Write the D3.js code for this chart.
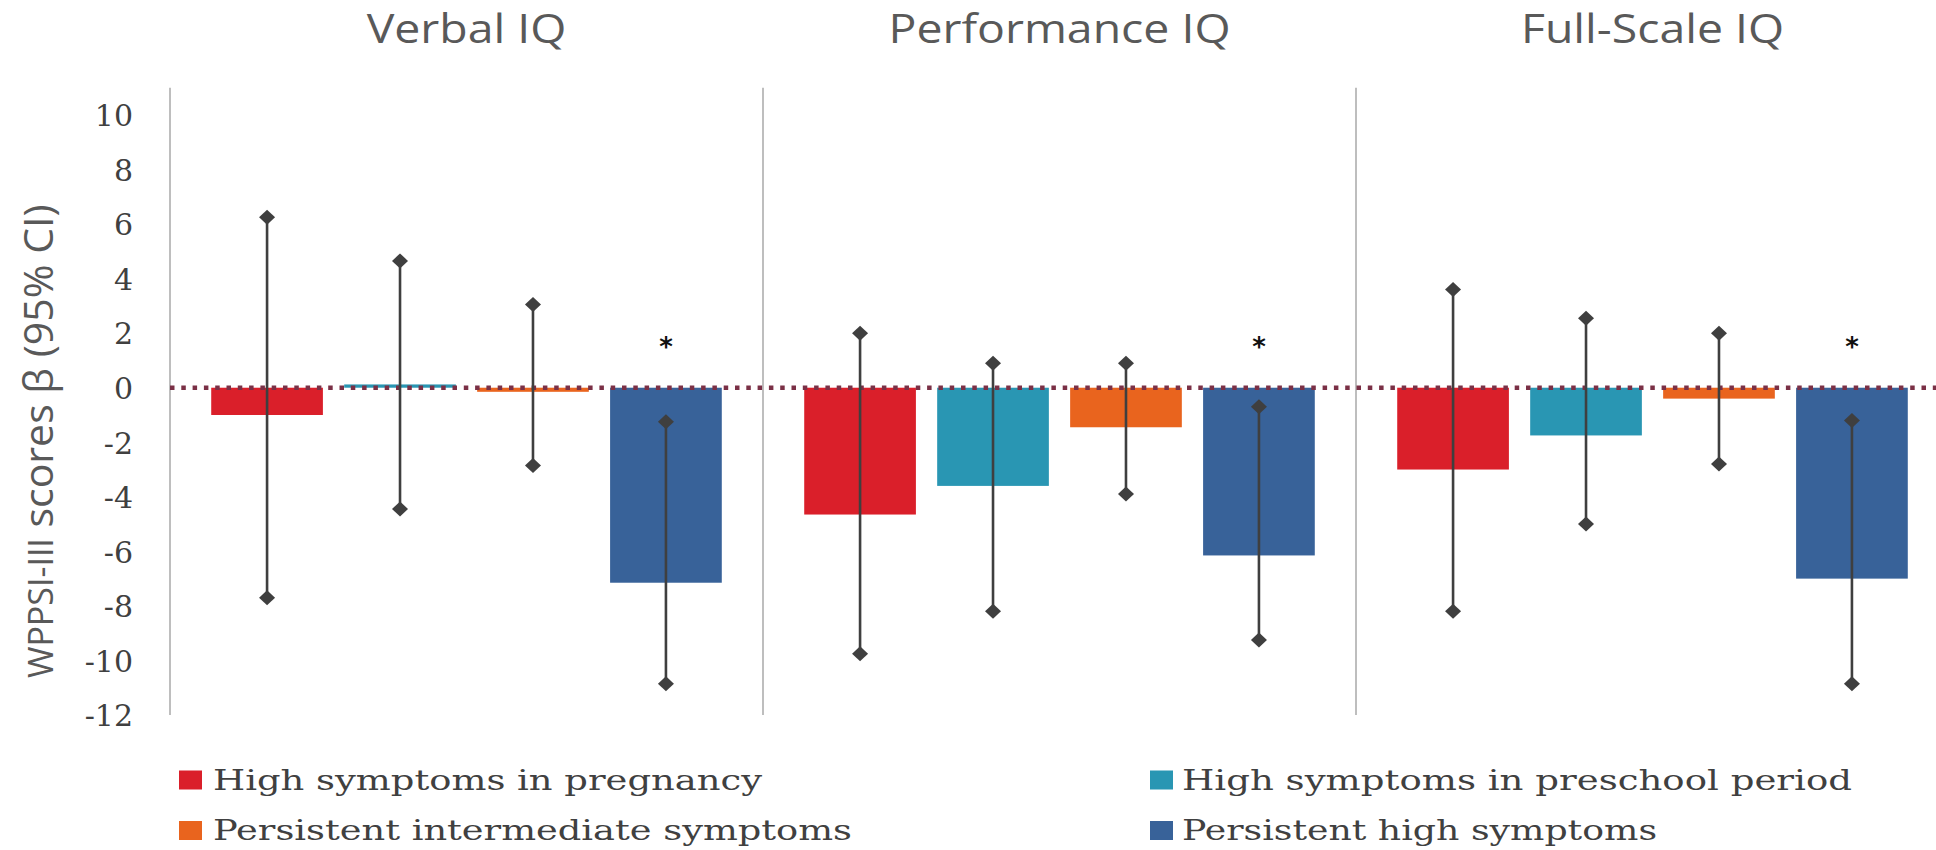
<!DOCTYPE html>
<html>
<head>
<meta charset="utf-8">
<script src="https://cdn.jsdelivr.net/npm/d3@7"></script>
<style>
  html, body { margin: 0; padding: 0; background: #ffffff; }
  svg { display: block; }
</style>
</head>
<body>
<div id="chart"></div>
<script>
// IQ outcomes (WPPSI-III) by maternal depressive-symptom trajectory: beta and 95% CI
const categories = ["Verbal IQ", "Performance IQ", "Full-Scale IQ"];
const seriesNames = [
  "High symptoms in pregnancy",
  "High symptoms in preschool period",
  "Persistent intermediate symptoms",
  "Persistent high symptoms"
];
const seriesColors = ["#da1f2a", "#2996b3", "#e9641e", "#386299"];

// beta estimates, one value per category
const betaPregnancy    = [-1.0, -4.65, -3.0];
const betaPreschool    = [0.12, -3.6, -1.75];
const betaIntermediate = [-0.15, -1.45, -0.4];
const betaPersistent   = [-7.15, -6.15, -7.0];

// lower 95% CI bounds
const lowPregnancy    = [-7.7, -9.75, -8.2];
const lowPreschool    = [-4.45, -8.2, -5.0];
const lowIntermediate = [-2.85, -3.9, -2.8];
const lowPersistent   = [-10.85, -9.25, -10.85];

// upper 95% CI bounds
const highPregnancy    = [6.25, 2.0, 3.6];
const highPreschool    = [4.65, 0.9, 2.55];
const highIntermediate = [3.05, 0.9, 2.0];
const highPersistent   = [-1.25, -0.7, -1.2];

// statistically significant estimates (marked with an asterisk)
const sigPregnancy    = [false, false, false];
const sigPreschool    = [false, false, false];
const sigIntermediate = [false, false, false];
const sigPersistent   = [true, true, true];

const yTicks = [-12, -10, -8, -6, -4, -2, 0, 2, 4, 6, 8, 10];
const yDomain = [-12, 11];
const asteriskLevel = 1.7;

const betas = [betaPregnancy, betaPreschool, betaIntermediate, betaPersistent];
const lows  = [lowPregnancy, lowPreschool, lowIntermediate, lowPersistent];
const highs = [highPregnancy, highPreschool, highIntermediate, highPersistent];
const sigs  = [sigPregnancy, sigPreschool, sigIntermediate, sigPersistent];

const rows = [];
categories.forEach((cat, ci) => {
  seriesNames.forEach((s, si) => {
    rows.push({
      cat, series: s, si,
      beta: betas[si][ci], low: lows[si][ci], high: highs[si][ci], sig: sigs[si][ci]
    });
  });
});

const W = 1936, H = 850;
const plotLeft = 170, panelW = 593;
const svg = d3.select("#chart").append("svg").attr("width", W).attr("height", H);

const x0 = d3.scaleBand().domain(categories)
  .range([plotLeft, plotLeft + panelW * categories.length]).padding(0);
const x1 = d3.scaleBand().domain(seriesNames)
  .range([0, x0.bandwidth()]).paddingInner(0.16).paddingOuter(0.31);
const y = d3.scaleLinear().domain(yDomain).range([715, 87.7]);

// y axis tick labels
const yAxis = d3.axisLeft(y).tickValues(yTicks).tickFormat(d => String(d)).tickSize(0).tickPadding(0);
const gy = svg.append("g").attr("transform", `translate(133,0)`).call(yAxis);
gy.select(".domain").remove();
gy.selectAll("text")
  .attr("font-family", "'DejaVu Serif', serif")
  .attr("font-size", 30)
  .attr("fill", "#404040")
  .attr("dy", "0.36em");

// panel separators and left edge
const seps = categories.map(c => x0(c));
svg.append("g").selectAll("line").data(seps).join("line")
  .attr("x1", d => d).attr("x2", d => d)
  .attr("y1", y(yDomain[1])).attr("y2", y(yDomain[0]))
  .attr("stroke", "#a3a3a3").attr("stroke-width", 1.4);

// panel titles (slightly widened lettering)
svg.append("g").selectAll("text").data(categories).join("text")
  .attr("x", d => x0(d) + x0.bandwidth() / 2)
  .attr("y", 43)
  .attr("text-anchor", "middle")
  .attr("font-family", "'Open Sans', sans-serif")
  .attr("font-size", 40)
  .attr("fill", "#595959")
  .text(d => d)
  .each(function () {
    const w = this.getComputedTextLength();
    d3.select(this).attr("textLength", w * 1.16).attr("lengthAdjust", "spacingAndGlyphs");
  });

// bars
svg.append("g").selectAll("rect").data(rows).join("rect")
  .attr("x", d => x0(d.cat) + x1(d.series))
  .attr("width", x1.bandwidth())
  .attr("y", d => y(Math.max(0, d.beta)))
  .attr("height", d => Math.abs(y(d.beta) - y(0)))
  .attr("fill", d => seriesColors[d.si]);

// zero reference line
svg.append("line")
  .attr("x1", plotLeft).attr("x2", W)
  .attr("y1", y(0)).attr("y2", y(0))
  .attr("stroke", "#7a3046").attr("stroke-width", 4.5)
  .attr("stroke-dasharray", "4.5 6.8");

// confidence intervals
const cx = d => x0(d.cat) + x1(d.series) + x1.bandwidth() / 2;
const ci = svg.append("g");
ci.selectAll("line").data(rows).join("line")
  .attr("x1", cx).attr("x2", cx)
  .attr("y1", d => y(d.high)).attr("y2", d => y(d.low))
  .attr("stroke", "#3f3f3f").attr("stroke-width", 2.6);
const diamond = "M0,-7.5L8,0L0,7.5L-8,0Z";
const ends = rows.flatMap(d => [{ x: cx(d), v: d.high }, { x: cx(d), v: d.low }]);
ci.selectAll("path").data(ends).join("path")
  .attr("d", diamond)
  .attr("transform", d => `translate(${d.x},${y(d.v)})`)
  .attr("fill", "#3f3f3f");

// significance markers
svg.append("g").selectAll("text").data(rows.filter(d => d.sig)).join("text")
  .attr("x", cx)
  .attr("y", y(asteriskLevel) + 15)
  .attr("text-anchor", "middle")
  .attr("font-family", "'DejaVu Sans', sans-serif")
  .attr("font-weight", "bold")
  .attr("font-size", 26)
  .attr("fill", "#111")
  .text("*");

// y axis title
const yt = svg.append("text")
  .attr("transform", "translate(53,678) rotate(-90)")
  .attr("font-family", "'Open Sans', sans-serif")
  .attr("fill", "#595959");
yt.append("tspan").attr("font-size", 34).text("WPPSI-III");
yt.append("tspan").attr("font-size", 41).text(" scores  β (95% CI)");

// legend
const legendPos = [
  { sx: 179, tx: 213, base: 789.5, w: 549 },
  { sx: 1150, tx: 1182, base: 789.5, w: 670 },
  { sx: 179, tx: 213, base: 840, w: 639 },
  { sx: 1150, tx: 1182, base: 840, w: 475 }
];
const lg = svg.append("g").selectAll("g").data(seriesNames).join("g");
lg.append("rect")
  .attr("x", (d, i) => legendPos[i].sx)
  .attr("y", (d, i) => legendPos[i].base - 19)
  .attr("width", 23).attr("height", 19)
  .attr("fill", (d, i) => seriesColors[i]);
lg.append("text")
  .attr("x", (d, i) => legendPos[i].tx)
  .attr("y", (d, i) => legendPos[i].base)
  .attr("font-family", "'DejaVu Serif', serif")
  .attr("font-size", 27)
  .attr("fill", "#404040")
  .attr("textLength", (d, i) => legendPos[i].w)
  .attr("lengthAdjust", "spacingAndGlyphs")
  .text(d => d);
</script>
</body>
</html>
